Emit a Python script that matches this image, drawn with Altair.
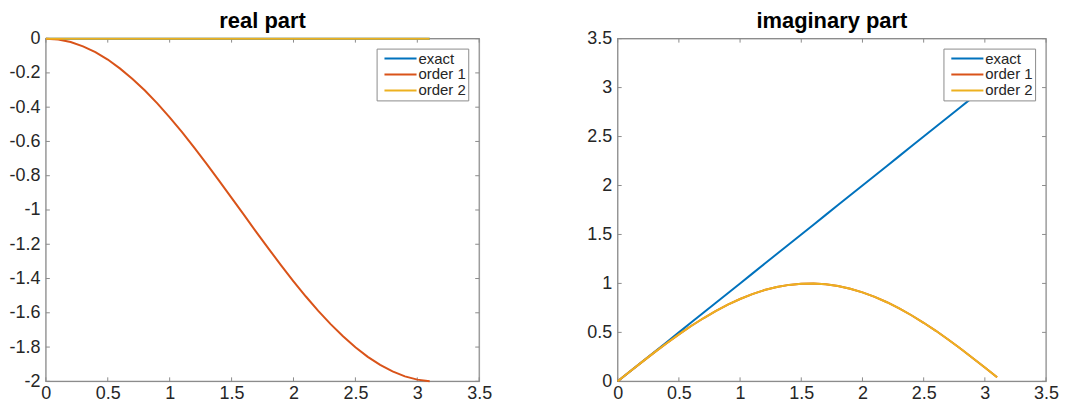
import altair as alt
import pandas as pd

x_vals = [0.0, 0.1, 0.2, 0.3, 0.4, 0.5, 0.6, 0.7, 0.8, 0.9, 1.0, 1.1, 1.2, 1.3, 1.4, 1.5,
          1.6, 1.7, 1.8, 1.9, 2.0, 2.1, 2.2, 2.3, 2.4, 2.5, 2.6, 2.7, 2.8, 2.9, 3.0, 3.1]

# real part
real_exact = [0.0] * 32
real_order1 = [0.0, -0.005, -0.020, -0.045, -0.079, -0.122, -0.175, -0.235, -0.303, -0.378,
               -0.460, -0.546, -0.638, -0.732, -0.830, -0.929, -1.029, -1.129, -1.227, -1.323,
               -1.416, -1.505, -1.589, -1.666, -1.737, -1.801, -1.857, -1.904, -1.942, -1.971,
               -1.990, -1.999]
real_order2 = [0.0] * 32

# imaginary part
imag_exact = [0.0, 0.1, 0.2, 0.3, 0.4, 0.5, 0.6, 0.7, 0.8, 0.9, 1.0, 1.1, 1.2, 1.3, 1.4, 1.5,
              1.6, 1.7, 1.8, 1.9, 2.0, 2.1, 2.2, 2.3, 2.4, 2.5, 2.6, 2.7, 2.8, 2.9, 3.0, 3.1]
imag_order1 = [0.0, 0.100, 0.199, 0.296, 0.389, 0.479, 0.565, 0.644, 0.717, 0.783, 0.841,
               0.891, 0.932, 0.964, 0.985, 0.997, 1.000, 0.992, 0.974, 0.946, 0.909, 0.863,
               0.808, 0.746, 0.675, 0.598, 0.516, 0.427, 0.335, 0.239, 0.141, 0.042]
imag_order2 = [0.0, 0.100, 0.199, 0.296, 0.389, 0.479, 0.565, 0.644, 0.717, 0.783, 0.841,
               0.891, 0.932, 0.964, 0.985, 0.997, 1.000, 0.992, 0.974, 0.946, 0.909, 0.863,
               0.808, 0.746, 0.675, 0.598, 0.516, 0.427, 0.335, 0.239, 0.141, 0.042]

series_names = ["exact", "order 1", "order 2"]
series_colors = ["#0072BD", "#D95319", "#EDB120"]

x_ticks = [0, 0.5, 1, 1.5, 2, 2.5, 3, 3.5]
real_ticks = [0, -0.2, -0.4, -0.6, -0.8, -1, -1.2, -1.4, -1.6, -1.8, -2]
imag_ticks = [0, 0.5, 1, 1.5, 2, 2.5, 3, 3.5]

H = 344
FONT = "Liberation Sans"
FRAME = "#8c8c8c"
TXT = "#262626"
TL = 4  # tick length (inside)


def make_panel(title, ys, y_ticks, y_domain, extent, label_expr, W):
    frames = []
    for name, vals in zip(series_names, ys):
        frames.append(pd.DataFrame({"x": x_vals, "y": vals, "series": name}))
    df = pd.concat(frames, ignore_index=True)

    xs = alt.Scale(domain=[0, 3.5], nice=False, zero=False)
    ysc = alt.Scale(domain=y_domain, nice=False, zero=False)

    x_axis = alt.Axis(
        values=x_ticks, title=None, ticks=False, grid=False, domain=False,
        labelFont=FONT, labelFontSize=18, labelColor=TXT, labelPadding=3,
        labelFlush=False, labelOverlap=False,
        labelExpr="format(datum.value, '~g')")
    y_axis = alt.Axis(
        values=y_ticks, title=None, ticks=False, grid=False, domain=False,
        labelFont=FONT, labelFontSize=18, labelColor=TXT, labelPadding=6,
        labelFlush=False, labelOverlap=False, labelExpr=label_expr,
        minExtent=extent, maxExtent=extent)

    lines = []
    for name in series_names:
        lines.append(
            alt.Chart(df).transform_filter(alt.datum.series == name).mark_line(
                strokeWidth=2, clip=False
            ).encode(
                x=alt.X("x:Q", scale=xs, axis=x_axis),
                y=alt.Y("y:Q", scale=ysc, axis=y_axis),
                color=alt.Color("series:N",
                                scale=alt.Scale(domain=series_names, range=series_colors),
                                legend=alt.Legend(
                                    title=None, orient="none", legendX=W - 103, legendY=10,
                                    symbolType="M-0.3,0H4.3", symbolSize=196,
                                    symbolStrokeWidth=2, labelOffset=24,
                                    labelFont=FONT, labelFontSize=15, labelColor=TXT,
                                    padding=2, rowPadding=0,
                                    strokeColor=FRAME, fillColor="white",
                                    cornerRadius=0)),
            )
        )

    one = pd.DataFrame({"k": [0]})
    frame = alt.Chart(one).mark_rect(fill=None, stroke=FRAME, strokeWidth=1.2).encode(
        x=alt.value(0), x2=alt.value(W), y=alt.value(0), y2=alt.value(H))

    xt = pd.DataFrame({"t": x_ticks})
    yt = pd.DataFrame({"t": y_ticks})
    tick_style = dict(color=FRAME, strokeWidth=1)
    xb = alt.Chart(xt).mark_rule(**tick_style).encode(
        x=alt.X("t:Q", scale=xs, axis=x_axis), y=alt.value(H), y2=alt.value(H - TL))
    xtop = alt.Chart(xt).mark_rule(**tick_style).encode(
        x=alt.X("t:Q", scale=xs, axis=x_axis), y=alt.value(0), y2=alt.value(TL))
    yl = alt.Chart(yt).mark_rule(**tick_style).encode(
        y=alt.Y("t:Q", scale=ysc, axis=y_axis), x=alt.value(0), x2=alt.value(TL))
    yr = alt.Chart(yt).mark_rule(**tick_style).encode(
        y=alt.Y("t:Q", scale=ysc, axis=y_axis), x=alt.value(W), x2=alt.value(W - TL))

    return alt.layer(frame, xb, xtop, yl, yr, *lines).properties(
        width=W, height=H,
        title=alt.TitleParams(title, font=FONT, fontSize=22, fontWeight="bold",
                              color="black", offset=-3, anchor="middle"),
    )


left = make_panel(
    "real part",
    [real_exact, real_order1, real_order2],
    real_ticks, [-2, 0], 37,
    "datum.value == 0 ? '0' : (datum.value < 0 ? '-' + format(-datum.value, '~g') : format(datum.value, '~g'))",
    435,
)
right = make_panel(
    "imaginary part",
    [imag_exact, imag_order1, imag_order2],
    imag_ticks, [0, 3.5], 32,
    "format(datum.value, '~g')",
    430,
)

chart = alt.hconcat(left, right, spacing=92).resolve_legend(
    color="independent"
).resolve_scale(color="independent").properties(padding=0).configure_view(
    stroke=None
).configure(background="white")

chart.save("out.html", embed_options={"renderer": "svg", "actions": False})
